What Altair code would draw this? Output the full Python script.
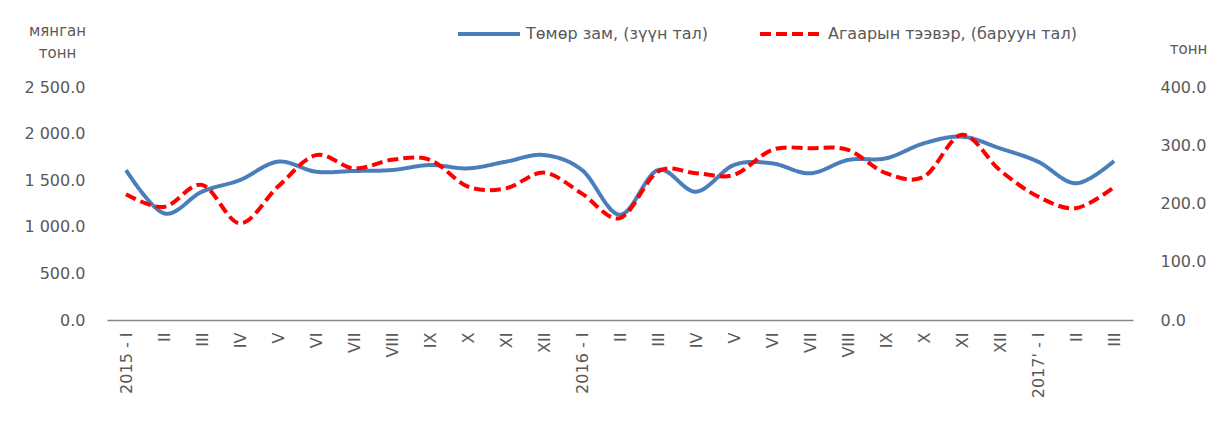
import json
import altair as alt
import pandas as pd

periods = ["2015 - I", "II", "III", "IV", "V", "VI", "VII", "VIII", "IX", "X", "XI", "XII",
           "2016 - I", "II", "III", "IV", "V", "VI", "VII", "VIII", "IX", "X", "XI", "XII",
           "2017' - I", "II", "III"]
rail = [1609, 1145, 1377, 1502, 1699, 1591, 1599, 1609, 1663, 1627, 1699, 1770, 1609,
        1130, 1609, 1377, 1663, 1681, 1574, 1717, 1735, 1896, 1967, 1842, 1699, 1467, 1706]
air = [216, 194, 232, 166, 229, 283, 260, 275, 275, 229, 226, 253, 217,
       175, 255, 252, 249, 292, 295, 292, 252, 246, 318, 257, 212, 192, 228]

rail_name = "Төмөр зам, (зүүн тал)"
air_name = "Агаарын тээвэр, (баруун тал)"
series_names = [rail_name, air_name]
series_colors = ["#4A7EBB", "#FF0000"]
left_ticks = [0, 500, 1000, 1500, 2000, 2500]
right_ticks = [0, 100, 200, 300, 400]

n = len(periods)
df_rail = pd.DataFrame({"idx": list(range(n)), "value": rail, "series": rail_name})
df_air = pd.DataFrame({"idx": list(range(n)), "value": air, "series": air_name})

FONT = "DejaVu Sans"
GREY = "#595959"

x_enc = alt.X(
    "idx:O",
    scale=alt.Scale(type="point", padding=0.5),
    axis=alt.Axis(
        labelExpr=json.dumps(periods) + "[datum.value]",
        labelAngle=-90, title=None, ticks=False, grid=False,
        domainColor="#868686", domainWidth=1.5, labelPadding=12,
        labelFontSize=16, labelFont=FONT, labelColor=GREY,
    ),
)

legend_def = alt.Legend(
    orient="none", legendX=349, legendY=-86, direction="horizontal",
    title=None, symbolType="stroke", symbolSize=3844, symbolStrokeWidth=4,
    labelFontSize=16, labelFont=FONT, labelColor=GREY, columnPadding=43,
    labelOffset=4, padding=0, labelLimit=500,
)

color_enc = alt.Color(
    "series:N",
    scale=alt.Scale(domain=series_names, range=series_colors),
    legend=legend_def,
)
dash_enc = alt.StrokeDash(
    "series:N",
    scale=alt.Scale(domain=series_names, range=[[1, 0], [11, 5]]),
    legend=legend_def,
)

left = alt.Chart(df_rail).mark_line(
    interpolate="cardinal", tension=0, strokeWidth=4
).encode(
    x=x_enc,
    y=alt.Y(
        "value:Q",
        scale=alt.Scale(domain=[0, 2500], nice=False, zero=True),
        axis=alt.Axis(
            values=left_ticks,
            labelExpr="replace(format(datum.value, ',.1f'), ',', ' ')",
            domain=False, ticks=False, grid=False, labelPadding=22,
            labelFontSize=16, labelFont=FONT, labelColor=GREY,
            title=["мянган", "тонн"], titleAngle=0, titleX=-50, titleY=-64,
            titleAlign="center", titleBaseline="top", titleLineHeight=22,
            titleFontSize=15, titleFont=FONT, titleFontWeight="normal", titleColor=GREY,
        ),
    ),
    color=color_enc,
    strokeDash=dash_enc,
)

right = alt.Chart(df_air).mark_line(
    interpolate="cardinal", tension=0, strokeWidth=4
).encode(
    x=x_enc,
    y=alt.Y(
        "value:Q",
        scale=alt.Scale(domain=[0, 400], nice=False, zero=True),
        axis=alt.Axis(
            orient="right", values=right_ticks, format=".1f",
            domain=False, ticks=False, grid=False, labelPadding=27,
            labelFontSize=16, labelFont=FONT, labelColor=GREY,
            title="тонн", titleAngle=0, titleX=55, titleY=-46,
            titleAlign="center", titleBaseline="top",
            titleFontSize=15, titleFont=FONT, titleFontWeight="normal", titleColor=GREY,
        ),
    ),
    color=color_enc,
    strokeDash=dash_enc,
)

chart = alt.layer(left, right).resolve_scale(y="independent").properties(
    width=1026, height=233,
    autosize=alt.AutoSizeParams(type="none"),
    padding={"left": 99, "top": 79, "right": 75, "bottom": 90},
).configure_view(stroke=None)

chart.save("out.html", embed_options={"renderer": "svg", "actions": False})
